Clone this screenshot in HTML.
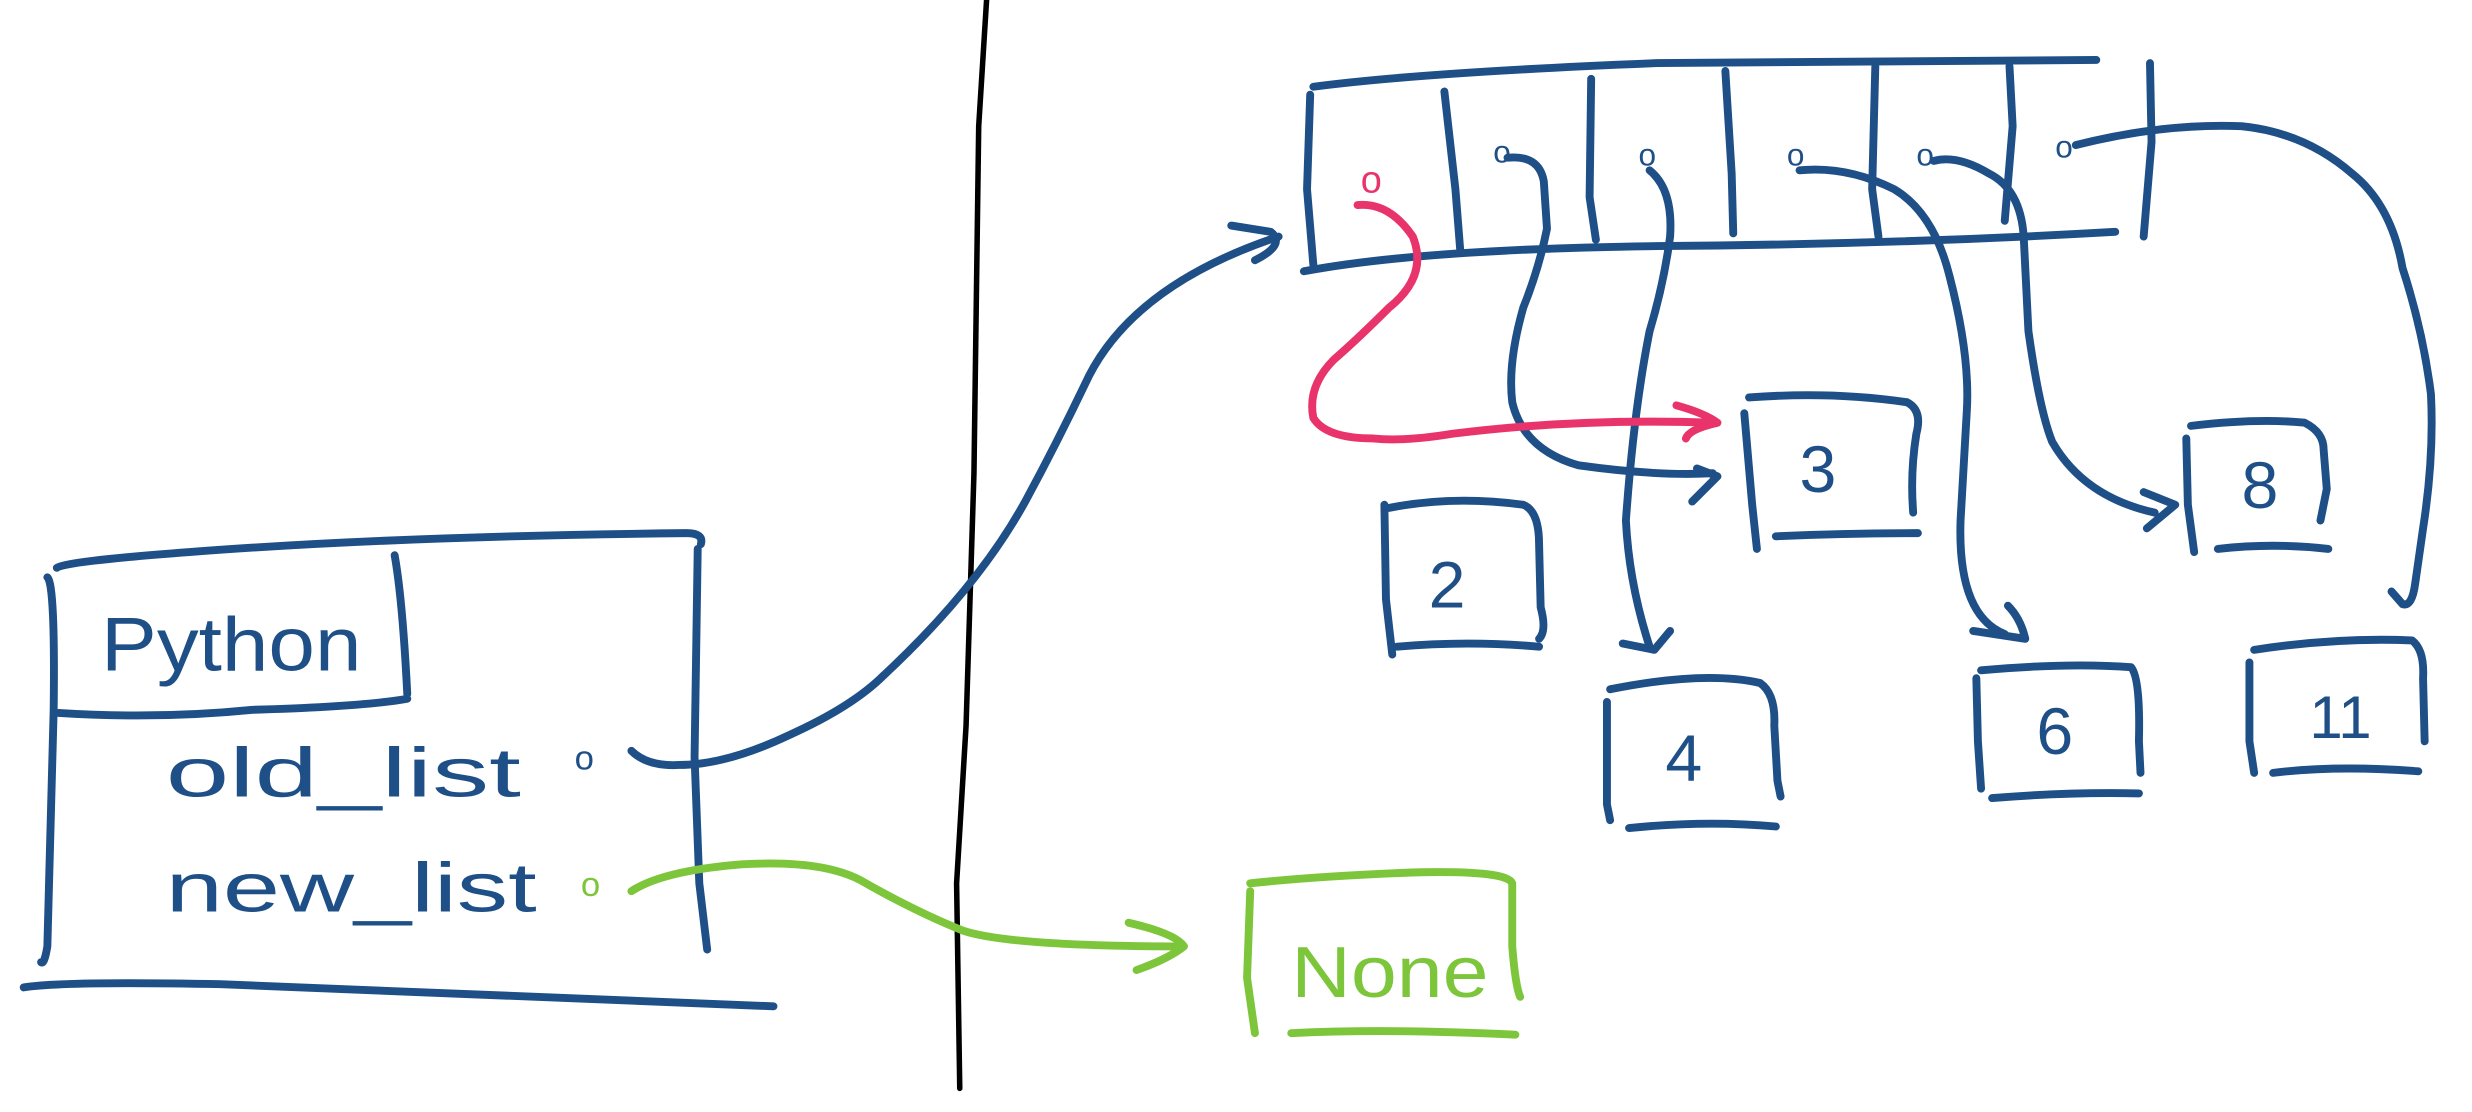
<!DOCTYPE html>
<html><head><meta charset="utf-8"><style>
html,body{margin:0;padding:0;background:#fff;}
svg{display:block;}
</style></head><body>
<svg width="2472" height="1112" viewBox="0 0 1566 705" preserveAspectRatio="none" xmlns="http://www.w3.org/2000/svg">
<g fill="none" stroke-linecap="round" stroke-linejoin="round" stroke-width="5">
<path d="M625 0 L620 80 L617 300 L612 460 L606 560 L608 690" stroke="#000" stroke-width="3.5"/>
<g stroke="#1f4f87">
<path d="M36 360 Q40 356 120 350 Q250 340 435 338 Q446 338 444 345"/>
<path d="M30 366 Q35 370 34 450 L30 600 Q28 612 26 610"/>
<path d="M442 348 L440 480 L443 560 L448 602"/>
<path d="M15 626 Q40 622 140 624 Q300 630 490 638"/>
<path d="M37 452 Q100 456 160 450 Q230 448 258 443"/>
<path d="M250 352 Q255 380 258 440"/>
<path d="M832 55 Q900 46 1050 40 L1328 38"/>
<path d="M826 172 Q900 158 1050 156 Q1200 155 1340 147"/>
<path d="M830 60 L828 120 L832 168"/>
<path d="M915 58 L922 120 L925 158"/>
<path d="M1008 50 L1007 125 L1011 152"/>
<path d="M1093 45 L1097 110 L1098 148"/>
<path d="M1188 42 L1186 120 L1190 150"/>
<path d="M1273 42 L1275 80 L1270 140"/>
<path d="M1362 40 L1363 90 L1358 150"/>
<path d="M880 322 Q920 314 965 320 Q975 324 975 345 L976 385 Q980 400 975 405"/><path d="M877 320 L878 380 L882 415"/><path d="M885 410 Q930 406 975 410"/>
<path d="M1108 252 Q1160 248 1208 255 Q1218 260 1214 275 Q1210 300 1212 325"/><path d="M1105 262 L1110 320 L1113 348"/><path d="M1125 340 Q1170 338 1215 338"/>
<path d="M1020 437 Q1080 425 1115 433 Q1125 440 1124 460 L1126 495 L1128 505"/><path d="M1018 445 L1018 510 L1020 520"/><path d="M1032 525 Q1080 520 1125 524"/>
<path d="M1255 425 Q1310 420 1350 423 Q1356 430 1355 470 L1356 490"/><path d="M1252 430 L1253 470 L1255 500"/><path d="M1262 506 Q1310 502 1355 503"/>
<path d="M1388 270 Q1430 265 1460 268 Q1472 274 1472 285 L1474 310 L1470 330"/><path d="M1385 278 L1386 320 L1390 350"/><path d="M1405 348 Q1440 344 1475 348"/>
<path d="M1428 412 Q1480 404 1528 406 Q1536 412 1535 430 L1536 470"/><path d="M1425 420 L1425 470 L1428 490"/><path d="M1440 490 Q1480 485 1532 489"/>
<path d="M400 476 Q410 486 430 485 Q460 485 500 466 Q540 448 560 428 Q620 372 650 317 Q670 280 690 238 Q720 180 810 150"/>
<path d="M780 143 L805 147 Q815 155 795 165"/>
<path d="M955 100 Q975 98 978 115 L980 145 Q975 170 965 195 Q955 230 958 255 Q965 285 1000 295 Q1050 302 1085 300"/>
<path d="M1075 297 L1088 302 L1072 318"/>
<path d="M1045 108 Q1060 120 1058 150 Q1054 180 1045 210 Q1035 260 1030 330 Q1032 370 1045 410"/>
<path d="M1028 408 L1048 412 L1058 400"/>
<path d="M1140 108 Q1170 105 1200 120 Q1225 135 1235 175 Q1248 225 1246 260 L1242 330 Q1240 390 1270 402"/>
<path d="M1250 400 L1283 405 Q1280 392 1272 384"/>
<path d="M1225 102 Q1240 98 1260 110 Q1280 120 1282 150 L1285 210 Q1292 260 1300 280 Q1320 315 1365 325"/>
<path d="M1358 312 L1378 320 L1360 335"/>
<path d="M1315 92 Q1370 78 1420 80 Q1460 84 1490 110 Q1515 130 1522 170 Q1535 210 1540 250 Q1542 290 1535 335 L1530 370 Q1528 385 1522 383 L1515 375"/>
</g>
<g stroke="#7dc63b">
<path d="M792 560 Q840 555 900 553 Q955 552 958 560 L958 600 Q960 625 963 632"/>
<path d="M792 565 L790 620 L795 655"/>
<path d="M818 655 Q880 652 960 656"/>
<path d="M400 565 Q420 552 470 548 Q520 545 545 558 Q580 578 610 590 Q640 600 750 600"/>
<path d="M715 585 Q745 592 750 600 Q740 608 720 615"/>
</g>
<path d="M860 130 Q880 128 895 150 Q905 175 880 195 Q860 215 845 228 Q828 245 832 265 Q840 278 870 278 Q890 280 920 275 Q1000 265 1085 268" stroke="#e8336b"/>
<path d="M1062 257 Q1080 262 1088 268 Q1070 272 1068 278" stroke="#e8336b"/>
</g>
<g font-family="Liberation Sans, sans-serif" font-size="44">
<text x="64" y="425" fill="#1f4f87" font-size="48" textLength="165" lengthAdjust="spacingAndGlyphs">Python</text>
<text x="105" y="505" fill="#1f4f87" textLength="225" lengthAdjust="spacingAndGlyphs">old_list</text>
<text x="105" y="578" fill="#1f4f87" textLength="235" lengthAdjust="spacingAndGlyphs">new_list</text>
<text x="364" y="488" fill="#1f4f87" font-size="22">o</text>
<text x="368" y="568" fill="#7dc63b" font-size="22">o</text>
<text x="818" y="632" fill="#7dc63b" font-size="46" textLength="125" lengthAdjust="spacingAndGlyphs">None</text>
<text x="905" y="385" fill="#1f4f87" font-size="42">2</text>
<text x="1140" y="312" fill="#1f4f87" font-size="42">3</text>
<text x="1055" y="495" fill="#1f4f87" font-size="42">4</text>
<text x="1290" y="478" fill="#1f4f87" font-size="42">6</text>
<text x="1420" y="322" fill="#1f4f87" font-size="42">8</text>
<text x="1463" y="468" fill="#1f4f87" font-size="38">11</text>
<text x="862" y="122" fill="#e8336b" font-size="24">o</text>
<g fill="#1f4f87" font-size="20"><text x="946" y="103">o</text><text x="1038" y="105">o</text><text x="1132" y="105">o</text><text x="1214" y="105">o</text><text x="1302" y="100">o</text></g>
</g>
</svg>
</body></html>
